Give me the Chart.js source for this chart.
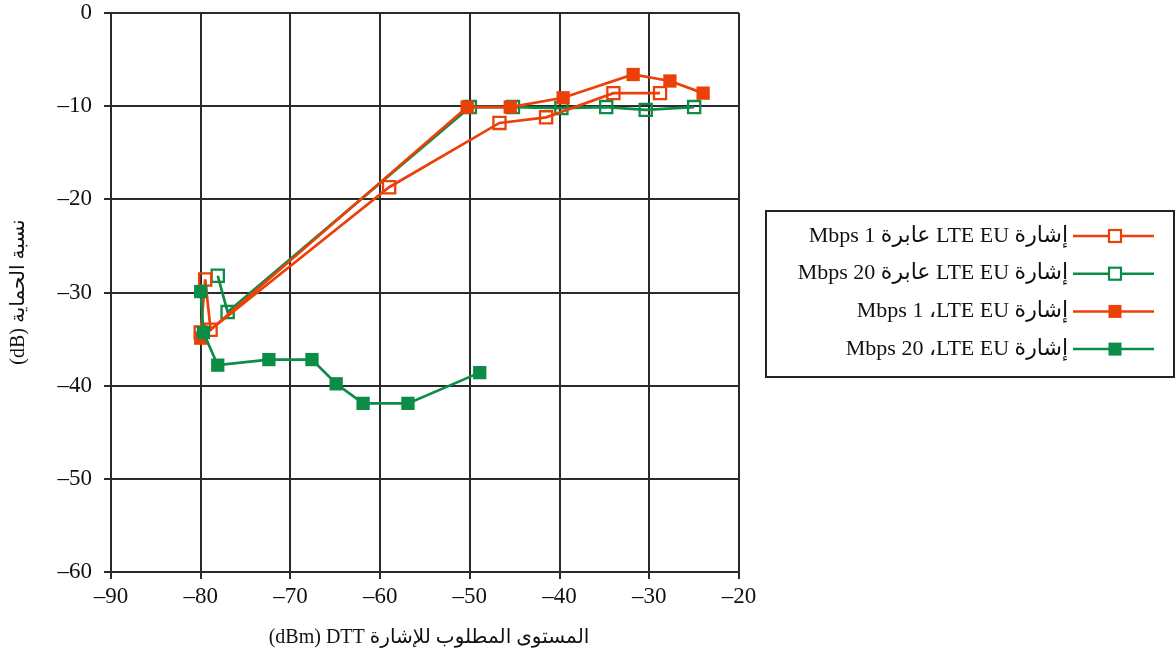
<!DOCTYPE html>
<html lang="ar">
<head>
<meta charset="utf-8">
<script src="https://cdn.jsdelivr.net/npm/chart.js@4/dist/chart.umd.min.js"></script>
<style>
  html, body { margin: 0; padding: 0; background: #fff; }
  canvas { display: block; }
</style>
</head>
<body>
<canvas id="chart" width="1176" height="655"></canvas>
<script>
// LTE EU 1 Mbps, passing
const lte1PassX = [-80.0, -79.5, -78.9, -59.0, -46.7, -41.5, -34.0, -28.8];
const lte1PassY = [-34.3, -28.6, -34.0, -18.7, -11.8, -11.2, -8.6, -8.6];
// LTE EU 20 Mbps, passing
const lte20PassX = [-78.1, -77.0, -50.0, -45.2, -39.8, -34.8, -30.4, -25.0];
const lte20PassY = [-28.2, -32.1, -10.1, -10.1, -10.2, -10.1, -10.4, -10.1];
// LTE EU 1 Mbps
const lte1X = [-80.0, -50.3, -45.5, -39.6, -31.8, -27.7, -24.0];
const lte1Y = [-34.9, -10.1, -10.1, -9.1, -6.6, -7.3, -8.6];
// LTE EU 20 Mbps
const lte20X = [-80.0, -79.7, -78.1, -72.4, -67.6, -64.9, -61.9, -56.9, -48.9];
const lte20Y = [-29.9, -34.3, -37.8, -37.2, -37.2, -39.8, -41.9, -41.9, -38.6];

// RLM marks keep the Latin/number runs in the right visual order
const seriesLabels = [
  'إشارة LTE EU عابرة 1 Mbps',
  'إشارة LTE EU عابرة 20 Mbps',
  'إشارة LTE EU\u200F، 1 Mbps',
  'إشارة LTE EU\u200F، 20 Mbps'
];
const xTitle = 'المستوى المطلوب للإشارة DTT\u200F (dBm)\u200F';
const yTitle = 'نسبة الحماية (dB)';

const ORANGE = '#eb4108';
const GREEN = '#0b8c47';
const FONT = "'Liberation Serif', 'DejaVu Serif', 'DejaVu Sans', serif";

const pts = (xs, ys) => xs.map((x, i) => ({ x, y: ys[i] }));

function series(label, xs, ys, color, filled, order) {
  return {
    label,
    data: pts(xs, ys),
    showLine: true,
    borderColor: color,
    borderWidth: 2.7,
    pointStyle: 'rect',
    pointRadius: filled ? 9.4 : 8.6,
    pointBorderWidth: filled ? 0 : 2.3,
    pointBorderColor: color,
    pointBackgroundColor: filled ? color : 'rgba(255,255,255,0)',
    order
  };
}

const datasets = [
  series(seriesLabels[0], lte1PassX, lte1PassY, ORANGE, false, 2),
  series(seriesLabels[1], lte20PassX, lte20PassY, GREEN, false, 3),
  series(seriesLabels[2], lte1X, lte1Y, ORANGE, true, 1),
  series(seriesLabels[3], lte20X, lte20Y, GREEN, true, 0)
];

const dash = v => String(v).replace('-', '\u2013');

// axis titles and the boxed legend, drawn right-to-left
const extras = {
  id: 'extras',
  afterDraw(chart) {
    const ctx = chart.ctx;
    const area = chart.chartArea;
    ctx.save();
    ctx.fillStyle = '#111';
    ctx.direction = 'rtl';
    ctx.textBaseline = 'middle';
    ctx.font = `20px ${FONT}`;

    ctx.textAlign = 'center';
    ctx.fillText(xTitle, (area.left + area.right) / 2 + 4, 638);

    ctx.save();
    ctx.translate(19, 292);
    ctx.rotate(-Math.PI / 2);
    ctx.fillText(yTitle, 0, 0);
    ctx.restore();

    // legend box
    const bx = 766, by = 211, bw = 408, bh = 166;
    ctx.strokeStyle = '#222';
    ctx.lineWidth = 2;
    ctx.strokeRect(bx, by, bw, bh);

    ctx.font = `22px ${FONT}`;
    ctx.textAlign = 'right';
    datasets.forEach((ds, i) => {
      const y = 236 + i * 37.7;
      ctx.fillStyle = '#111';
      ctx.fillText(ds.label, 1068, y);
      ctx.strokeStyle = ds.borderColor;
      ctx.lineWidth = 2.5;
      ctx.beginPath();
      ctx.moveTo(1073, y);
      ctx.lineTo(1154, y);
      ctx.stroke();
      const s = 12;
      if (ds.pointBorderWidth) {
        ctx.fillStyle = '#fff';
        ctx.fillRect(1115 - s / 2, y - s / 2, s, s);
        ctx.lineWidth = 2.2;
        ctx.strokeRect(1115 - s / 2, y - s / 2, s, s);
      } else {
        ctx.fillStyle = ds.borderColor;
        ctx.fillRect(1115 - 6.5, y - 6.5, 13, 13);
      }
    });
    ctx.restore();
  }
};

new Chart(document.getElementById('chart'), {
  type: 'scatter',
  data: { datasets },
  options: {
    responsive: false,
    animation: false,
    layout: { padding: { top: 13, right: 437, left: 0, bottom: 0 } },
    plugins: {
      legend: { display: false },
      tooltip: { enabled: false }
    },
    scales: {
      x: {
        type: 'linear',
        min: -90,
        max: -20,
        afterFit: s => {
          s.height = 83;
          s.paddingLeft = 0;
          s.paddingRight = 0;
        },
        ticks: {
          stepSize: 10,
          padding: 4,
          color: '#111',
          font: { family: FONT, size: 23 },
          callback: v => dash(v)
        },
        grid: { color: '#2b2b2b', lineWidth: 2, tickLength: 7 },
        border: { color: '#2b2b2b', width: 2 }
      },
      y: {
        type: 'linear',
        min: -60,
        max: 0,
        afterFit: s => {
          s.width = 111;
          s.paddingTop = 0;
          s.paddingBottom = 0;
        },
        ticks: {
          stepSize: 10,
          padding: 12,
          color: '#111',
          font: { family: FONT, size: 23 },
          callback: v => dash(v)
        },
        grid: { color: '#2b2b2b', lineWidth: 2, tickLength: 7 },
        border: { color: '#2b2b2b', width: 2 }
      }
    }
  },
  plugins: [extras]
});
</script>
</body>
</html>
